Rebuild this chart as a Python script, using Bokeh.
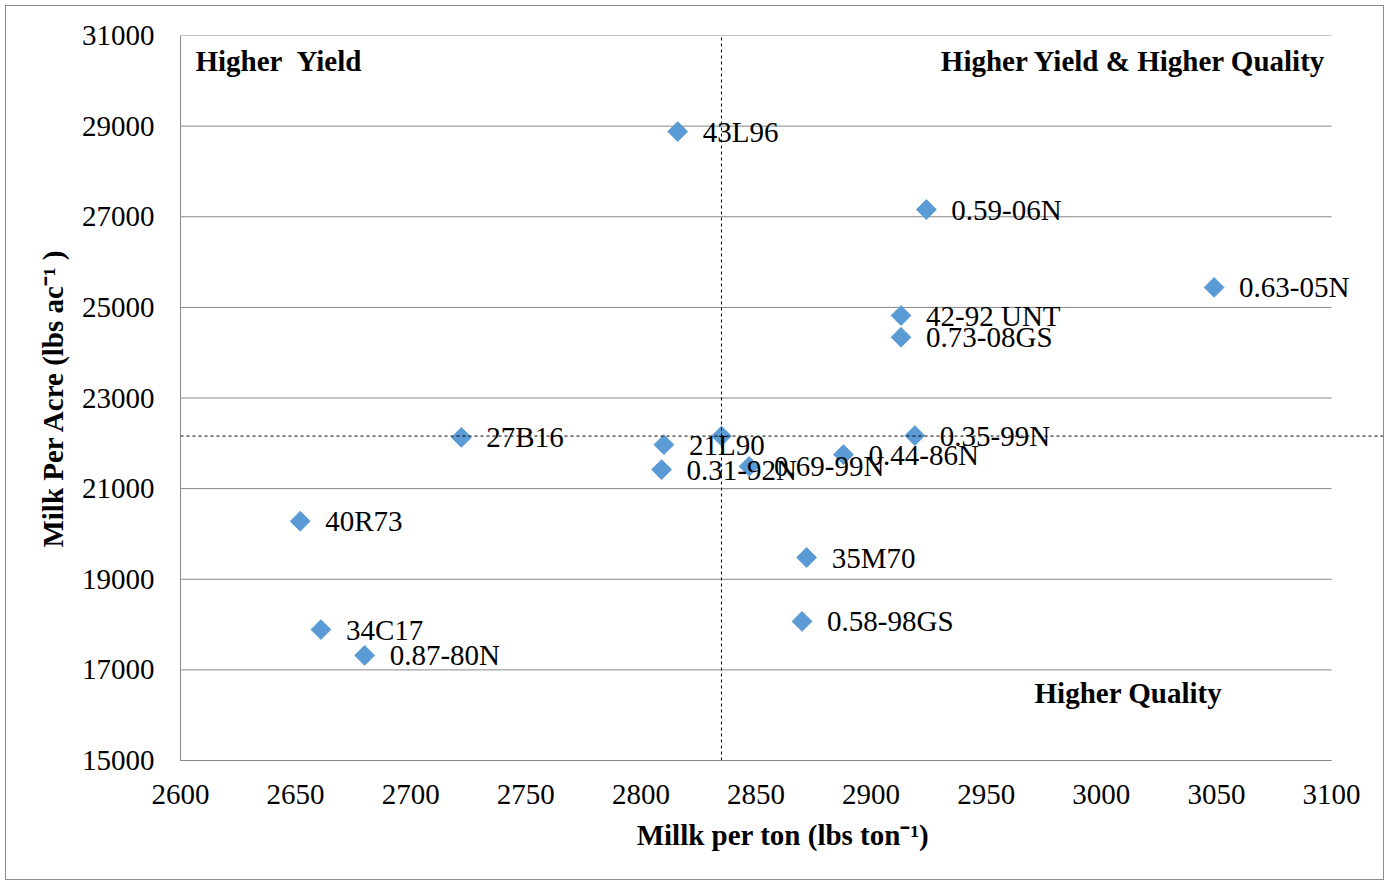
from bokeh.plotting import figure
from bokeh.models import Range1d, FixedTicker, ColumnDataSource, Label
from bokeh.core.properties import value
from bokeh.embed import file_html
from bokeh.resources import INLINE

# ---- data ----
varieties = ["43L96", "0.59-06N", "0.63-05N", "42-92 UNT", "0.73-08GS", "27B16",
             "21L90", "0.31-92N", "0.69-99N", "0.44-86N", "0.35-99N", "40R73",
             "35M70", "34C17", "0.87-80N", "0.58-98GS"]
milk_per_ton = [2816, 2924, 3049, 2913, 2913, 2722,
                2810, 2809, 2847, 2888, 2919, 2652,
                2872, 2661, 2680, 2870]
milk_per_acre = [28880, 27160, 25440, 24820, 24340, 22130,
                 21970, 21420, 21490, 21750, 22170, 20280,
                 19480, 17890, 17320, 18070]
mean_ton = 2835
mean_acre = 22160

x_ticks = list(range(2600, 3101, 50))
y_ticks = list(range(15000, 31001, 2000))

FONT = "Liberation Serif"
FS = "29px"
BLUE = "#5B9BD5"
GRID = "#878787"

x_lo, x_hi = x_ticks[0], x_ticks[-1]
x_frame_end = x_lo + (x_hi - x_lo) * 1205 / 1151

p = figure(width=1379, height=875, output_backend="svg", toolbar_location=None,
           x_range=Range1d(x_lo, x_frame_end), y_range=Range1d(y_ticks[0], y_ticks[-1]),
           min_border_left=174, min_border_right=0, min_border_top=29, min_border_bottom=121)
p.outline_line_color = None
p.xgrid.visible = False
p.ygrid.visible = False
p.background_fill_color = "white"
p.border_fill_color = "white"
p.styles = {"border": "1px solid #8c8c8c", "margin": "5px 0 0 5px"}

# axes
p.xaxis.ticker = FixedTicker(ticks=x_ticks)
p.yaxis.ticker = FixedTicker(ticks=y_ticks)
p.xaxis.bounds = (x_lo, x_hi)
for ax in (p.xaxis, p.yaxis):
    ax.axis_line_color = GRID
    ax.major_tick_line_color = None
    ax.minor_tick_line_color = None
    ax.major_tick_out = 0
    ax.major_tick_in = 0
    ax.major_label_text_font = FONT
    ax.major_label_text_font_size = FS
    ax.major_label_text_color = "black"
    ax.axis_label_text_font = FONT
    ax.axis_label_text_font_size = FS
    ax.axis_label_text_font_style = "bold"
    ax.axis_label_text_color = "black"
p.xaxis.axis_label = "Millk per ton (lbs ton\u207b\u00b9)"
p.yaxis.axis_label = "Milk Per Acre (lbs ac\u207b\u00b9 )"
p.xaxis.major_label_standoff = 24
p.xaxis.axis_label_standoff = 12
p.yaxis.major_label_standoff = 26
p.yaxis.axis_label_standoff = 10

# horizontal gridlines limited to the axis range
p.segment(x0=[x_lo] * len(y_ticks), x1=[x_hi] * len(y_ticks), y0=y_ticks, y1=y_ticks,
          line_color=GRID, line_width=1)

src = ColumnDataSource(dict(x=milk_per_ton, y=milk_per_acre, name=varieties))
p.scatter("x", "y", source=src, marker="square", angle=0.785398, size=14,
          fill_color=BLUE, line_color=BLUE)
p.scatter([mean_ton], [mean_acre], marker="square", angle=0.785398, size=14,
          fill_color=BLUE, line_color=BLUE)

# mean lines
p.segment(x0=[mean_ton], x1=[mean_ton], y0=[y_ticks[0]], y1=[y_ticks[-1]],
          line_color="black", line_width=1, line_dash="3 3")
p.segment(x0=[x_lo], x1=[x_frame_end], y0=[mean_acre], y1=[mean_acre],
          line_color="black", line_width=1, line_dash="3 3")

p.text("x", "y", text="name", source=src, x_offset=25, y_offset=0,
       text_font=value(FONT), text_font_size=FS, text_color="black",
       text_baseline="middle", text_align="left")

for txt, x, y, align in [("Higher \u00a0Yield", 2606.5, 30430, "left"),
                         ("Higher Yield & Higher Quality", 3097.8, 30430, "right"),
                         ("Higher Quality", 2971, 16500, "left")]:
    p.add_layout(Label(x=x, y=y, text=txt, text_font=FONT, text_font_size=FS,
                       text_font_style="bold", text_color="black",
                       text_align=align, text_baseline="middle"))

open("out.html", "w").write(file_html(p, INLINE))
